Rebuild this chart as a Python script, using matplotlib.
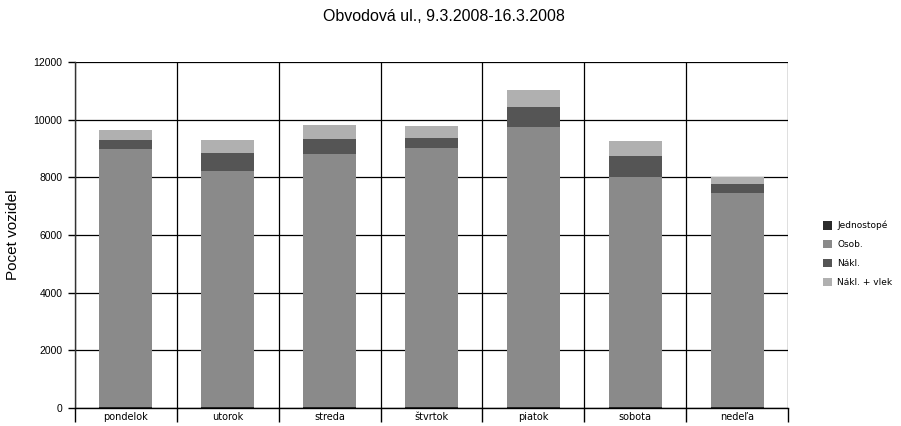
import numpy as np
import matplotlib.pyplot as plt

days = ["pondelok", "utorok", "streda", "štvrtok", "piatok", "sobota", "nedeľa"]
jednostope = [25, 20, 22, 24, 30, 35, 40]
osob = [8955, 8205, 8784, 8991, 9702, 7971, 7430]
nakl = [313, 602, 522, 348, 710, 741, 302]
nakl_vlek = [359, 466, 474, 404, 592, 498, 255]

series = [
    ("Jednostopé", jednostope, "#2b2b2b"),
    ("Osob.", osob, "#8a8a8a"),
    ("Nákl.", nakl, "#555555"),
    ("Nákl. + vlek", nakl_vlek, "#b0b0b0"),
]

fig = plt.figure(figsize=(9.01, 4.26), dpi=100)
ax = fig.add_axes([0.0832, 0.0423, 0.7914, 0.8122])

x = np.arange(len(days))
bottom = np.zeros(len(days))
handles = []
for name, vals, col in series:
    h = ax.bar(x, vals, width=0.52, bottom=bottom, color=col, label=name, zorder=2)
    handles.append(h)
    bottom += np.array(vals)

ax.set_xlim(-0.5, len(days) - 0.5)
ax.set_ylim(0, 12000)
ax.set_yticks(range(0, 12001, 2000))
ax.tick_params(axis="y", labelsize=7.5, length=5, width=1, pad=4)
for lab in ax.get_yticklabels():
    lab.set_family("Liberation Sans")

# category labels at centres, ticks at the boundaries
ax.set_xticks(x)
ax.set_xticklabels(days, fontsize=7, family="DejaVu Sans")
ax.tick_params(axis="x", which="major", length=0, pad=3)
ax.set_xticks(np.arange(-0.5, len(days)), minor=True)
ax.tick_params(axis="x", which="minor", length=10, width=1, direction="out")

ax.grid(True, axis="y", color="black", linewidth=0.9, zorder=0)
ax.grid(True, axis="x", which="minor", color="black", linewidth=0.9, zorder=0)
ax.set_axisbelow(True)

for side in ["top", "right"]:
    ax.spines[side].set_visible(False)
ax.spines["left"].set_linewidth(1)
ax.spines["bottom"].set_linewidth(1)
ax.spines["left"].set_color("#333333")

ax.set_ylabel("Pocet vozidel", fontsize=11, family="Liberation Sans", labelpad=10)
fig.suptitle("Obvodová ul., 9.3.2008-16.3.2008", fontsize=11.5,
             family="Liberation Sans", x=0.493, y=0.98)

fig.legend(handles=handles, loc="center left", bbox_to_anchor=(0.904, 0.404),
           frameon=False, fontsize=6.5, handlelength=1.0, handleheight=1.1,
           labelspacing=1.05, handletextpad=0.6)

fig.savefig("out.png", dpi=100)
